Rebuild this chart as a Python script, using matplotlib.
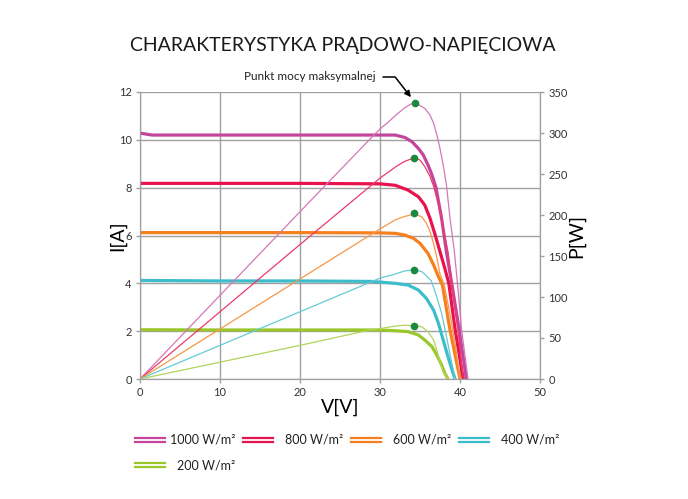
import matplotlib
matplotlib.use("Agg")
import matplotlib.pyplot as plt
from matplotlib.lines import Line2D

plt.rcParams['font.family'] = ['Lato', 'DejaVu Sans']

# natezenie napromieniowania
labels = ['1000 W/m²', '800 W/m²', '600 W/m²', '400 W/m²', '200 W/m²']
colors = ['#c4469c', '#e8124f', '#f67f1e', '#3dbccb', '#9cc72a']
thin_colors = ['#d576b8', '#ec3a6c', '#f79848', '#66cad6', '#b2d45a']

# prad I [A] (grube linie)
v_i_1000 = [0, 1.5, 10, 20, 28, 31.9, 33.1, 34.0, 34.8, 35.4, 36.0, 36.5, 37.0, 37.7, 38.3, 39.0, 39.9, 40.8]
i_1000 = [10.28, 10.2, 10.2, 10.2, 10.2, 10.2, 10.1, 9.92, 9.64, 9.37, 8.95, 8.53, 8.0, 6.72, 5.32, 3.93, 2.05, 0]
v_i_800 = [0, 10, 20, 30, 31.9, 33.5, 34.8, 35.6, 36.25, 36.9, 37.5, 38.1, 38.6, 39.4, 40.4]
i_800 = [8.18, 8.18, 8.18, 8.16, 8.1, 7.9, 7.62, 7.27, 6.72, 6.02, 5.32, 4.63, 4.0, 2.05, 0]
v_i_600 = [0, 10, 20, 30, 31.9, 33.1, 34.2, 35.0, 35.6, 36.0, 36.7, 37.3, 37.8, 38.75, 40.0]
i_600 = [6.12, 6.12, 6.12, 6.11, 6.09, 6.02, 5.88, 5.67, 5.42, 5.25, 4.77, 4.28, 3.93, 2.05, 0]
v_i_400 = [0, 10, 20, 29, 31.9, 33.5, 34.8, 35.8, 36.7, 37.3, 37.9, 38.5, 39.0, 39.4]
i_400 = [4.12, 4.1, 4.1, 4.08, 4.0, 3.93, 3.72, 3.37, 2.88, 2.33, 1.63, 0.93, 0.38, 0]
v_i_200 = [0, 10, 20, 30, 31.9, 33.5, 34.8, 35.6, 36.5, 37.1, 37.7, 38.1, 38.5]
i_200 = [2.06, 2.05, 2.05, 2.05, 2.02, 1.98, 1.84, 1.63, 1.35, 1.0, 0.59, 0.24, 0]

# moc P [W] (cienkie linie)
v_p_1000 = [0, 10, 20, 28, 30, 31, 32, 33, 33.8, 34.4, 35.6, 36.25, 36.7, 37.1, 37.5, 37.9, 38.3, 38.75, 39.3, 39.7, 40.2, 41.0]
p_1000 = [0, 102, 204, 285, 305, 313, 322, 330, 335, 337, 330, 322, 312, 298, 281, 261, 237, 196, 155, 115, 60, 0]
v_p_800 = [0, 10, 20, 30, 31, 32, 33, 34.3, 35.0, 35.6, 36.25, 36.7, 37.3, 37.9, 38.5, 39.2, 39.8, 40.4]
p_800 = [0, 82, 164, 245, 252, 259, 265, 270, 267, 259, 247, 235, 213, 185, 155, 100, 55, 0]
v_p_600 = [0, 10, 20, 30, 31.9, 33, 34.25, 35.2, 35.8, 36.25, 36.7, 37.1, 37.5, 38.0, 38.75, 39.4, 40.0]
p_600 = [0, 61, 122, 183, 194, 198, 201, 198, 190, 180, 165, 148, 128, 116, 79, 42, 0]
v_p_400 = [0, 10, 20, 30, 31.9, 33, 34.25, 35.2, 35.8, 36.4, 37.1, 37.7, 38.3, 38.9, 39.4]
p_400 = [0, 41, 82, 123, 128, 131.5, 133.5, 131, 126, 120, 100, 80, 52, 23, 0]
v_p_200 = [0, 10, 20, 28.75, 30, 31.9, 33, 34.3, 35.2, 36.0, 36.7, 37.1, 37.5, 37.9, 38.5]
p_200 = [0, 20.5, 41, 59.8, 61.5, 64.5, 65.5, 65, 63.8, 57.7, 47.6, 35, 21, 9, 0]

# punkty mocy maksymalnej
mpp_v = [34.4, 34.3, 34.3, 34.2, 34.3]
mpp_p = [337, 270, 202, 133.5, 65]

current = [(v_i_1000, i_1000), (v_i_800, i_800), (v_i_600, i_600), (v_i_400, i_400), (v_i_200, i_200)]
power = [(v_p_1000, p_1000), (v_p_800, p_800), (v_p_600, p_600), (v_p_400, p_400), (v_p_200, p_200)]

W, H = 688, 499
fig = plt.figure(figsize=(W / 100, H / 100), dpi=100)
ax = fig.add_axes([140 / W, 120 / H, 400 / W, 287 / H])
ax2 = ax.twinx()

grid_c = '#a0a0a0'
for (v, i), c in zip(current, colors):
    ax.plot(v, i, color=c, lw=2.3, solid_capstyle='butt', zorder=3)
for (v, p), c in zip(power, thin_colors):
    ax2.plot(v, p, color=c, lw=0.9)
ax2.plot(mpp_v, mpp_p, 'o', color='#1c8a3e', ms=4.5, zorder=5)

ax.set_xlim(0, 50)
ax.set_ylim(0, 12)
ax2.set_ylim(0, 350)
ax.set_xticks(range(0, 51, 10))
ax.set_yticks(range(0, 13, 2))
ax2.set_yticks(range(0, 351, 50))
ax.grid(True, color=grid_c, lw=1)
ax.set_axisbelow(True)

for a in (ax, ax2):
    for s in a.spines.values():
        s.set_color(grid_c)
    a.tick_params(colors=grid_c, labelcolor='#333333', labelsize=8, length=3, width=1, pad=3)
ax2.spines['top'].set_visible(False)
ax.spines['top'].set_visible(False)

ax.set_xlabel('V[V]', fontsize=14, labelpad=0)
ax.set_ylabel('I[A]', fontsize=14)
ax2.set_ylabel('P[W]', fontsize=14)
ax.yaxis.set_label_coords(-0.035, 0.5)
ax2.yaxis.set_label_coords(1.07, 0.5)

fig.text(0.4985, 1 - 45 / H, 'CHARAKTERYSTYKA PRĄDOWO-NAPIĘCIOWA', ha='center', va='center',
         fontsize=14, color='#1a1a1a')

fig.text(376 / W, 1 - 77 / H, 'Punkt mocy maksymalnej', ha='right', va='center',
         fontsize=8.5, color='#222222')
ax2.annotate('', xy=(mpp_v[0], mpp_p[0]), xytext=(383, H - 77), textcoords='figure pixels',
             arrowprops=dict(arrowstyle='-|>', color='black', lw=1.1, shrinkA=0, shrinkB=5,
                             connectionstyle='angle,angleA=0,angleB=128,rad=0', mutation_scale=9))

# legenda: podwojna linia + opis wyrownany do prawej w kazdym polu
for k, (lab, c) in enumerate(zip(labels, colors)):
    row, col = divmod(k, 4)
    x0 = 135 + 108 * col
    y0 = 440 + 25 * row
    for dy in (-2, 2):
        fig.add_artist(Line2D([x0 / W, (x0 + 30) / W], [1 - (y0 + dy) / H, 1 - (y0 + dy) / H],
                              transform=fig.transFigure, color=c, lw=1.6))
    fig.text((x0 + 100) / W, 1 - y0 / H, lab, ha='right', va='center', fontsize=9, color='#222222')

fig.savefig('out.png', dpi=100)
